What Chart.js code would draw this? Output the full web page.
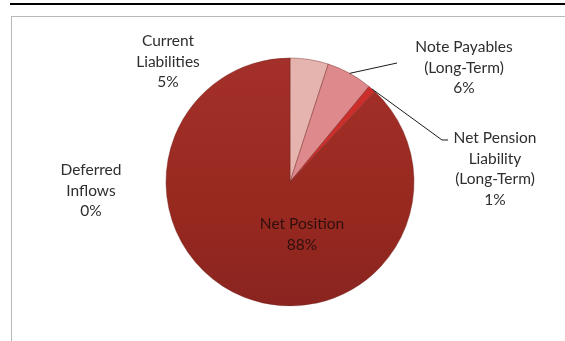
<!DOCTYPE html>
<html>
<head>
<meta charset="utf-8">
<script src="https://cdn.jsdelivr.net/npm/chart.js@4.4.1/dist/chart.umd.min.js"></script>
<style>
  html, body { margin: 0; padding: 0; background: #fff; }
  #wrap { position: relative; width: 565px; height: 341px; overflow: hidden; }
  #rule { position: absolute; left: 10px; top: 3px; width: 560px; height: 2px; background: #000; }
  #frame { position: absolute; left: 11px; top: 16px; width: 600px; height: 400px;
           border: 1px solid #b8b8b8; box-sizing: border-box; }
  #c { position: absolute; left: 0; top: 0; }
</style>
</head>
<body>
<div id="wrap">
  <div id="rule"></div>
  <div id="frame"></div>
  <canvas id="c" width="565" height="341"></canvas>
</div>
<script>
// Liability / net position breakdown
const categories = [
  ['Current', 'Liabilities'],
  ['Note Payables', '(Long-Term)'],
  ['Net Pension', 'Liability', '(Long-Term)'],
  ['Net Position'],
  ['Deferred', 'Inflows']
];
const shares = [5, 6, 1, 88, 0];
const percentLabels = ['5%', '6%', '1%', '88%', '0%'];
const sliceColors = ['#e6b4ae', '#de8a8c', '#cc2f2b', '#9c2b23', '#9c2b23'];

// Label layout (text centre x, first-line y) and optional leader-line elbows
const labelLayout = [
  { x: 168, y: 41, color: '#2e2e2e' },
  { x: 464, y: 47, color: '#2e2e2e', leader: [[397, 63]] },
  { x: 495, y: 138, color: '#2e2e2e', leader: [[442, 140], [448, 140]] },
  { x: 302, y: 224, color: '#300f0d' },
  { x: 91, y: 170, color: '#2e2e2e' }
];

const pieLabels = {
  id: 'pieLabels',
  afterDatasetsDraw(chart) {
    const ctx = chart.ctx;
    const meta = chart.getDatasetMeta(0);
    ctx.save();
    ctx.font = '15.5px Lato, "Open Sans", sans-serif';
    ctx.textAlign = 'center';
    ctx.textBaseline = 'middle';
    const lineH = 20.5;
    meta.data.forEach((arc, i) => {
      const lay = labelLayout[i];
      if (lay.leader) {
        const mid = (arc.startAngle + arc.endAngle) / 2;
        const sx = arc.x + Math.cos(mid) * arc.outerRadius;
        const sy = arc.y + Math.sin(mid) * arc.outerRadius;
        ctx.beginPath();
        ctx.moveTo(sx, sy);
        lay.leader.forEach(p => ctx.lineTo(p[0], p[1]));
        ctx.strokeStyle = '#1a1a1a';
        ctx.lineWidth = 1;
        ctx.stroke();
      }
      const lines = categories[i].concat([percentLabels[i]]);
      ctx.fillStyle = lay.color;
      lines.forEach((t, k) => ctx.fillText(t, lay.x, lay.y + k * lineH));
    });
    ctx.restore();
  }
};

function sliceFill(context) {
  const i = context.dataIndex;
  const chart = context.chart;
  if (i === 3 && chart.chartArea) {
    const a = chart.chartArea;
    const g = chart.ctx.createLinearGradient(0, a.top, 0, a.bottom);
    g.addColorStop(0, '#a3302a');
    g.addColorStop(0.6, '#98291f');
    g.addColorStop(1, '#8a2420');
    return g;
  }
  return sliceColors[i];
}

new Chart(document.getElementById('c'), {
  type: 'pie',
  data: {
    labels: categories.map(c => c.join(' ')),
    datasets: [{
      data: shares,
      backgroundColor: sliceFill,
      borderColor: 'rgba(110,35,30,0.55)',
      borderWidth: 0.8
    }]
  },
  options: {
    responsive: false,
    animation: false,
    devicePixelRatio: 1,
    radius: 124,
    layout: { padding: { left: 166, right: 151, top: 58, bottom: 35 } },
    plugins: {
      legend: { display: false },
      tooltip: { enabled: false }
    }
  },
  plugins: [pieLabels]
});
</script>
</body>
</html>
